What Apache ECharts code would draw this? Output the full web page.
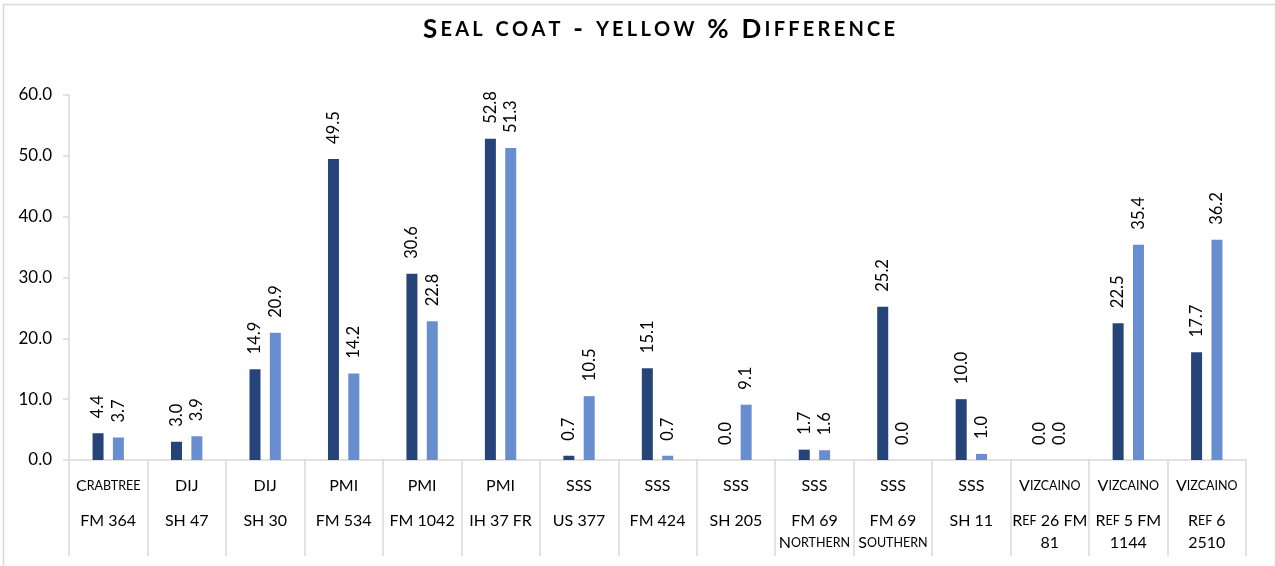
<!DOCTYPE html>
<html>
<head>
<meta charset="utf-8">
<script src="https://cdn.jsdelivr.net/npm/echarts@6/dist/echarts.min.js"></script>
<style>
  html, body { margin: 0; padding: 0; background: #fff; }
  #chart { width: 1275px; height: 566px; }
</style>
</head>
<body>
<div id="chart"></div>
<script>
// Contractor and roadway for each test section
const companies = ['Crabtree', 'DIJ', 'DIJ', 'PMI', 'PMI', 'PMI', 'SSS', 'SSS', 'SSS', 'SSS', 'SSS', 'SSS', 'Vizcaino', 'Vizcaino', 'Vizcaino'];
const roads = ['FM 364', 'SH 47', 'SH 30', 'FM 534', 'FM 1042', 'IH 37 FR', 'US 377', 'FM 424', 'SH 205', 'FM 69\nNorthern', 'FM 69\nSouthern', 'SH 11', 'Ref 26 FM\n81', 'Ref 5 FM\n1144', 'Ref 6\n2510'];

// Percent difference, two readings per section
const firstValues = [4.4, 3.0, 14.9, 49.5, 30.6, 52.8, 0.7, 15.1, 0.0, 1.7, 25.2, 10.0, 0.0, 22.5, 17.7];
const secondValues = [3.7, 3.9, 20.9, 14.2, 22.8, 51.3, 10.5, 0.7, 9.1, 1.6, 0.0, 1.0, 0.0, 35.4, 36.2];

const yTicks = [0, 10, 20, 30, 40, 50, 60];
const chartTitle = 'Seal coat - yellow % Difference';

const FONT = 'Lato, "Open Sans", sans-serif';

// Small-caps rendering with rich text: lowercase letters become smaller capitals
function smallCaps(str, big, small) {
  return str.split('\n').map(function (line) {
    let out = '';
    let run = '';
    let runSmall = null;
    for (const ch of line) {
      const isSmall = ch !== ch.toUpperCase();
      if (runSmall !== null && isSmall !== runSmall) {
        out += '{' + (runSmall ? small : big) + '|' + run + '}';
        run = '';
      }
      run += isSmall ? ch.toUpperCase() : ch;
      runSmall = isSmall;
    }
    if (run) out += '{' + (runSmall ? small : big) + '|' + run + '}';
    return out;
  }).join('\n');
}

// Spread the title letters apart
function spaced(str) {
  return Array.from(str).join('\u2009');
}

const categories = companies.map(function (c, i) { return c + '|' + roads[i]; });

const chart = echarts.init(document.getElementById('chart'), null, { renderer: 'canvas' });

const barLabel = {
  show: true,
  position: 'top',
  rotate: 90,
  align: 'left',
  verticalAlign: 'middle',
  distance: 15,
  fontFamily: FONT,
  fontSize: 16.5,
  color: '#000',
  formatter: function (p) { return p.value.toFixed(1); }
};

chart.setOption({
  animation: false,
  backgroundColor: '#fff',
  graphic: [{
    type: 'rect',
    left: 1,
    top: 2,
    shape: { width: 1272, height: 600 },
    style: { fill: 'none', stroke: '#d9d9d9', lineWidth: 1.5 },
    silent: true
  }],
  title: {
    text: smallCaps(spaced(chartTitle), 'b', 's'),
    left: 654,
    textAlign: 'center',
    top: 12,
    textStyle: {
      rich: {
        b: { fontFamily: FONT, fontWeight: 'bold', fontSize: 26, color: '#000' },
        s: { fontFamily: FONT, fontWeight: 'bold', fontSize: 20, color: '#000' }
      }
    }
  },
  grid: { left: 69, right: 29, top: 95, bottom: 106, containLabel: false },
  xAxis: {
    type: 'category',
    data: categories,
    axisLine: { show: true, lineStyle: { color: '#d9d9d9', width: 1.5 } },
    axisTick: { show: true, interval: 0, length: 96, lineStyle: { color: '#d9d9d9', width: 1.5 } },
    axisLabel: {
      interval: 0,
      margin: 15,
      formatter: function (v) {
        const parts = v.split('|');
        return smallCaps(parts[0], 'c', 'cs') + '\n{gap|}\n' + smallCaps(parts[1], 'r', 'rs');
      },
      rich: {
        c: { fontFamily: FONT, fontSize: 16, color: '#000', lineHeight: 22 },
        cs: { fontFamily: FONT, fontSize: 12.5, color: '#000', lineHeight: 22 },
        gap: { fontSize: 1, lineHeight: 13 },
        r: { fontFamily: FONT, fontSize: 16, color: '#000', lineHeight: 22 },
        rs: { fontFamily: FONT, fontSize: 12.5, color: '#000', lineHeight: 22 }
      }
    }
  },
  yAxis: {
    type: 'value',
    min: yTicks[0],
    max: yTicks[yTicks.length - 1],
    interval: yTicks[1] - yTicks[0],
    axisLine: { show: true, lineStyle: { color: '#d9d9d9', width: 1.5 } },
    axisTick: { show: true, length: 6, lineStyle: { color: '#d9d9d9', width: 1.5 } },
    splitLine: { show: false },
    axisLabel: {
      margin: 17,
      fontFamily: FONT,
      fontSize: 17,
      color: '#000',
      formatter: function (v) { return v.toFixed(1); }
    }
  },
  series: [
    {
      name: 'Reading 1',
      type: 'bar',
      data: firstValues,
      barWidth: 11,
      barGap: '85%',
      itemStyle: { color: '#264478' },
      label: barLabel
    },
    {
      name: 'Reading 2',
      type: 'bar',
      data: secondValues,
      barWidth: 11,
      barGap: '85%',
      itemStyle: { color: '#698ed0' },
      label: barLabel
    }
  ]
});
</script>
</body>
</html>
